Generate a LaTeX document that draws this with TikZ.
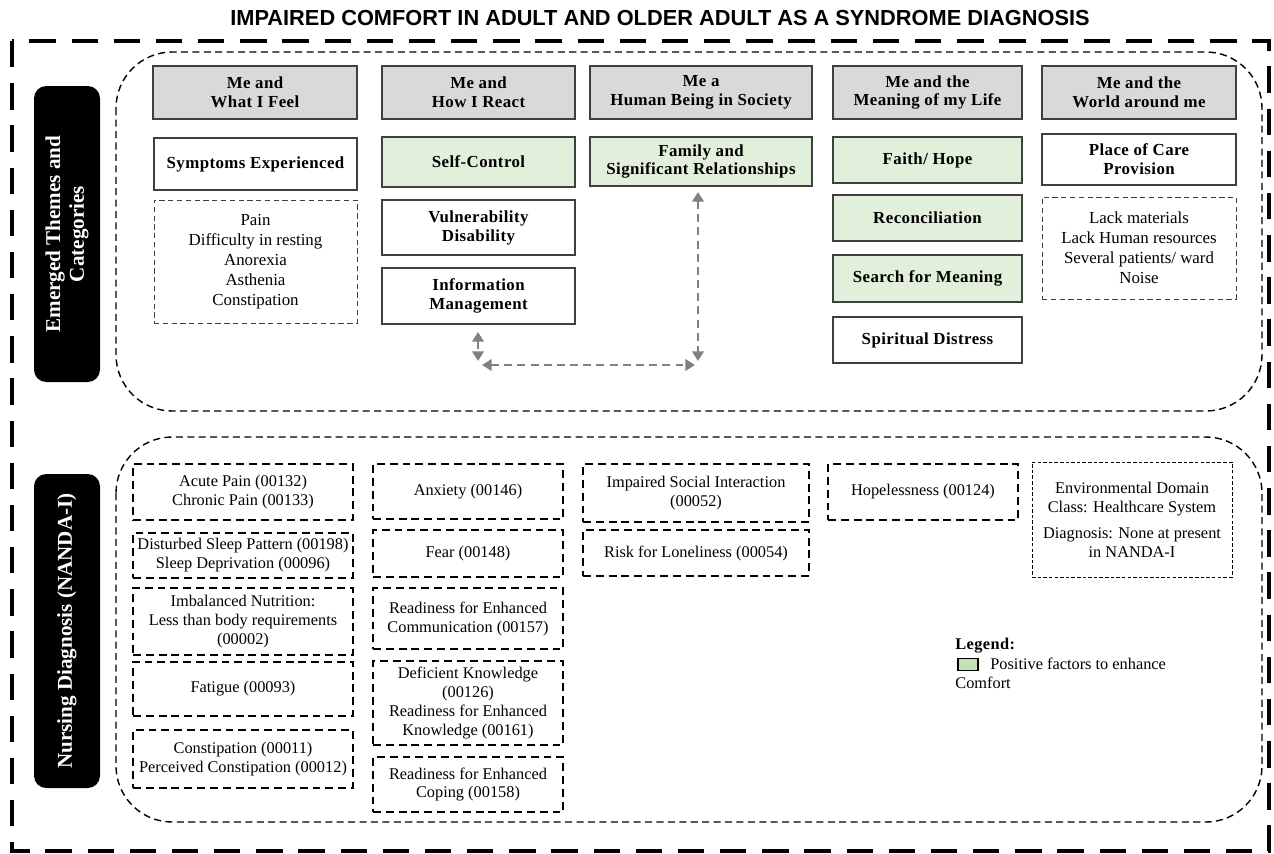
\documentclass[tikz,border=0pt]{standalone}
\usepackage{fontspec}
\setmainfont{Liberation Serif}
\newfontfamily\titlefont{Liberation Sans}
\newfontfamily\hdrfont[LetterSpace=2.5]{Liberation Serif}
\usetikzlibrary{arrows.meta}
\definecolor{hdrgray}{HTML}{D9D9D9}
\definecolor{posgreen}{HTML}{E2EFDA}
\definecolor{leggreen}{HTML}{C5E0B4}
\definecolor{boxline}{HTML}{404040}
\definecolor{arrgray}{HTML}{808080}
\tikzset{
 base/.style={inner sep=0pt, align=center, font=\fontsize{9.3}{10.8}\selectfont},
 hdr/.style={base, draw=boxline, line width=0.7pt, fill=hdrgray, font=\hdrfont\bfseries\fontsize{9.6}{10.8}\selectfont},
 catw/.style={base, draw=boxline, line width=0.7pt, fill=white, font=\hdrfont\bfseries\fontsize{9.6}{10.8}\selectfont},
 catg/.style={catw, fill=posgreen},
 listbox/.style={base, draw=boxline, line width=0.5pt, dash pattern=on 3pt off 2pt, font=\fontsize{9.6}{11.3}\selectfont},
 ndx/.style={base, draw=black, line width=1.1pt, dash pattern=on 4.5pt off 2.8pt},
 envbox/.style={base, draw=black, line width=0.5pt, dash pattern=on 2pt off 1.2pt},
 region/.style={draw=black, line width=0.8pt, dash pattern=on 4pt off 2.5pt, rounded corners=32pt},
 outer/.style={draw=black, line width=2.3pt, dash pattern=on 15pt off 9pt},
 blk/.style={fill=black, rounded corners=7pt, inner sep=0pt},
 blktxt/.style={rotate=90, text=white, align=center, font=\bfseries\fontsize{12}{13.5}\selectfont},
 link/.style={draw=arrgray, line width=1.6pt, dash pattern=on 4.5pt off 3pt, {Triangle[length=5.5pt,width=6.5pt]}-{Triangle[length=5.5pt,width=6.5pt]}},
 plain/.style={inner sep=0pt, font=\fontsize{9.3}{10.8}\selectfont},
}
\newcommand\bx[7]{%
 \pgfmathsetmacro\bxw{(#4-#2)*0.02}%
 \pgfmathsetmacro\bxh{(#5-#3)*0.02}%
 \node[#6, minimum width=\bxw cm, minimum height=\bxh cm] (#1) at ({(#2+#4)/2},{(#3+#5)/2}) {#7};}
\begin{document}
\begin{tikzpicture}[x=0.02cm,y=-0.02cm]
\useasboundingbox (0,0) rectangle (1274,853);
\node[font=\titlefont\bfseries\fontsize{12.4}{14}\selectfont] (title) at (660,18) {IMPAIRED COMFORT IN ADULT AND OLDER ADULT AS A SYNDROME DIAGNOSIS};
\draw[outer] (12,41) rectangle (1269,851);
\draw[region] (116,52) rectangle (1262,411);
\draw[region] (116,437) rectangle (1262,822);
% black labels
\bx{lab1}{34}{86}{100}{382}{blk}{}
\node[blktxt] (lab1t) at (lab1.center) {Emerged Themes and\\Categories};
\bx{lab2}{34}{474}{100}{788}{blk}{}
\node[blktxt] (lab2t) at (lab2.center) {Nursing Diagnosis (NANDA-I)};
% headers
\bx{h1}{153}{66}{357}{119}{hdr}{Me and\\What I Feel}
\bx{h2}{382}{66}{575}{119}{hdr}{Me and\\How I React}
\bx{h3}{590}{66}{812}{119}{hdr}{Me a\\Human Being in Society}
\bx{h4}{833}{66}{1022}{119}{hdr}{Me and the\\Meaning of my Life}
\bx{h5}{1042}{66}{1236}{119}{hdr}{Me and the\\World around me}
% categories
\bx{symp}{154}{138}{357}{190}{catw}{Symptoms Experienced}
\bx{symplist}{154}{200}{357}{323}{listbox}{Pain\\Difficulty in resting\\Anorexia\\Asthenia\\Constipation}
\bx{selfc}{382}{137}{575}{187}{catg}{Self-Control}
\bx{vuln}{382}{200}{575}{255}{catw}{Vulnerability\\Disability}
\bx{info}{382}{268}{575}{324}{catw}{Information\\Management}
\bx{fam}{590}{137}{812}{186}{catg}{Family and\\Significant Relationships}
\bx{faith}{833}{137}{1022}{183}{catg}{Faith/ Hope}
\bx{recon}{833}{195}{1022}{241}{catg}{Reconciliation}
\bx{search}{833}{255}{1022}{302}{catg}{Search for Meaning}
\bx{spirit}{833}{317}{1022}{363}{catw}{Spiritual Distress}
\bx{place}{1042}{134}{1236}{185}{catw}{Place of Care\\Provision}
\bx{placelist}{1042}{197}{1236}{299}{listbox}{Lack materials\\Lack Human resources\\Several patients/ ward\\Noise}
% link arrows
\coordinate (a1) at (478,332);
\coordinate (a2) at (478,361);
\coordinate (b1) at (482,365);
\coordinate (b2) at (695,365);
\coordinate (c1) at (698,192);
\coordinate (c2) at (698,361);
\draw[link] (a1) -- (a2);
\draw[link] (b1) -- (b2);
\draw[link] (c1) -- (c2);
% nursing diagnoses
\bx{d11}{133}{464}{353}{520}{ndx}{Acute Pain (00132)\\Chronic Pain (00133)}
\bx{d12}{133}{533}{353}{578}{ndx}{Disturbed Sleep Pattern (00198)\\Sleep Deprivation (00096)}
\bx{d13}{133}{588}{353}{655}{ndx}{Imbalanced Nutrition:\\Less than body requirements\\(00002)}
\bx{d14}{133}{662}{353}{716}{ndx}{Fatigue (00093)}
\bx{d15}{133}{730}{353}{788}{ndx}{Constipation (00011)\\Perceived Constipation (00012)}
\bx{d21}{373}{464}{563}{519}{ndx}{Anxiety (00146)}
\bx{d22}{373}{530}{563}{577}{ndx}{Fear (00148)}
\bx{d23}{373}{588}{563}{649}{ndx}{Readiness for Enhanced\\Communication (00157)}
\bx{d24}{373}{661}{563}{745}{ndx}{Deficient Knowledge\\(00126)\\Readiness for Enhanced\\Knowledge (00161)}
\bx{d25}{373}{757}{563}{812}{ndx}{Readiness for Enhanced\\Coping (00158)}
\bx{d31}{583}{464}{809}{522}{ndx}{Impaired Social Interaction\\(00052)}
\bx{d32}{583}{530}{809}{576}{ndx}{Risk for Loneliness (00054)}
\bx{d41}{828}{464}{1018}{520}{ndx}{Hopelessness (00124)}
\bx{d51}{1032}{462}{1232}{577}{envbox}{Environmental Domain\\Class: Healthcare System\\[4pt]Diagnosis: None at present\\in NANDA-I}
% legend
\node[plain, anchor=west, font=\hdrfont\bfseries\fontsize{9.3}{10.8}\selectfont] (legt) at (955,646) {Legend:};
\bx{legsw}{958}{659}{978}{670}{draw=black, line width=0.8pt, fill=leggreen}{}
\node[plain, anchor=west] (legp) at (990,664) {Positive factors to enhance};
\node[plain, anchor=west] (legc) at (955,683) {Comfort};
\end{tikzpicture}
\end{document}
